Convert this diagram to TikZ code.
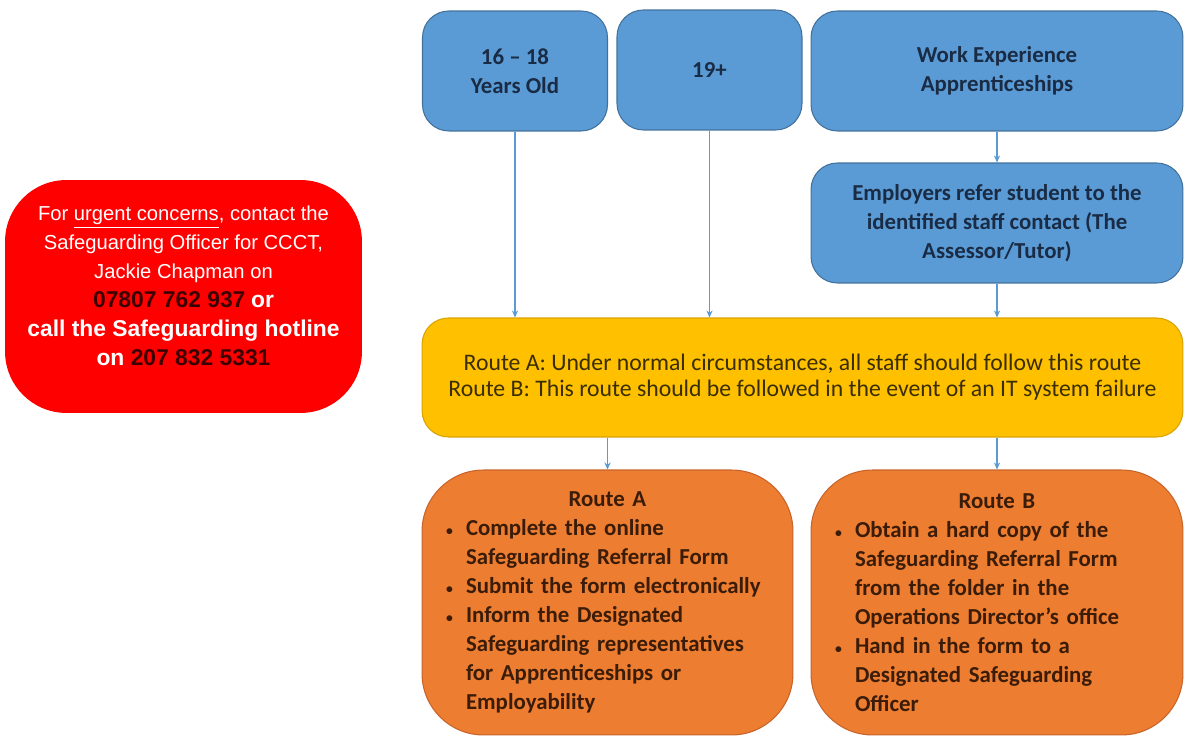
\documentclass[tikz,border=0pt]{standalone}
\usepackage{fontspec}
\setmainfont{Carlito}
\newfontfamily\arialfont{Liberation Sans}
\usetikzlibrary{arrows.meta}

\definecolor{boxblue}{HTML}{5B9BD5}
\definecolor{edgeblue}{HTML}{41719C}
\definecolor{textblue}{HTML}{1A2C45}
\definecolor{boxyellow}{HTML}{FFC000}
\definecolor{edgeyellow}{HTML}{D9A300}
\definecolor{textyellow}{HTML}{3A2E00}
\definecolor{boxorange}{HTML}{ED7D31}
\definecolor{edgeorange}{HTML}{C8642A}
\definecolor{textorange}{HTML}{3A1C08}
\definecolor{boxred}{HTML}{FF0000}
\definecolor{numred}{HTML}{3D0000}

\newcommand{\bul}{\makebox[0.4cm][l]{\scalebox{0.6}{\textbullet}}}
\newcommand{\ind}{\hspace*{0.4cm}}

\tikzset{
  bluebox/.style={draw=edgeblue, fill=boxblue, rounded corners=15pt, line width=0.6pt,
    minimum width=3.7cm, minimum height=2.4cm, inner sep=0pt, align=center,
    text=textblue, font=\fontsize{13pt}{16.5pt}\selectfont\bfseries},
  yellowbox/.style={draw=edgeyellow, fill=boxyellow, rounded corners=15pt, line width=0.6pt,
    minimum width=15.22cm, minimum height=2.38cm, inner sep=0pt, align=center,
    text=textyellow, font=\fontsize{13.5pt}{14.8pt}\selectfont},
  routebox/.style={draw=edgeorange, fill=boxorange, rounded corners=35pt, line width=0.6pt,
    minimum width=7.42cm, minimum height=5.3cm, inner sep=0pt, align=left,
    text width=6.46cm, text=textorange, font=\fontsize{13pt}{16.5pt}\selectfont\bfseries},
  urgentbox/.style={fill=boxred, rounded corners=35pt,
    minimum width=7.14cm, minimum height=4.66cm, inner sep=0pt},
  urgenttext/.style={align=center, inner sep=0pt,
    text=white, font=\arialfont\fontsize{11.5pt}{16.5pt}\selectfont},
  flow/.style={draw=boxblue, line width=0.6pt, ->, >={Stealth[length=4pt,width=3.5pt]}}
}

\begin{document}
\begin{tikzpicture}[x=0.02cm, y=-0.02cm]
  \useasboundingbox (0,0) rectangle (1191,742);

  % urgent contact
  \node[urgentbox] (urgent) at (183.5,296.5) {};
  \node[urgenttext] (urgentmsg) at ([yshift=0.22cm]urgent.center) {For \underline{urgent concerns}, contact the\\
    Safeguarding Officer for CCCT,\\
    Jackie Chapman on\\
    {\fontsize{13pt}{16.5pt}\selectfont\bfseries\color{numred}07807 762 937} {\fontsize{13pt}{16.5pt}\selectfont\bfseries or}\\
    {\fontsize{13pt}{16.5pt}\selectfont\bfseries call the Safeguarding hotline}\\
    {\fontsize{13pt}{16.5pt}\selectfont\bfseries on \color{numred}207 832 5331}};

  % who the student is
  \node[bluebox] (young) at (515,71) {16 -- 18\\Years Old};
  \node[bluebox] (adult) at (709.5,70) {19+};
  \node[bluebox, minimum width=7.44cm] (work) at (997,71) {Work Experience\\Apprenticeships};
  \node[bluebox, minimum width=7.44cm] (employer) at (997,223) {Employers refer student to the\\
    identified staff contact (The\\Assessor/Tutor)};

  \node[yellowbox] (routes) at (802.5,377.5) {Route A: Under normal circumstances, all staff should follow this route\\
    Route B: This route should be followed in the event of an IT system failure};

  % the two routes
  \node[routebox] (routeA) at (607.5,602.5) {\makebox[\linewidth]{Route A}\\
    \bul Complete the online\\
    \ind Safeguarding Referral Form\\
    \bul Submit the form electronically\\
    \bul Inform the Designated\\
    \ind Safeguarding representatives\\
    \ind for Apprenticeships or\\
    \ind Employability};
  \node[routebox, minimum width=7.44cm, text width=6.48cm] (routeB) at (997,602.5) {\makebox[\linewidth]{Route B}\\
    \bul Obtain a hard copy of the\\
    \ind Safeguarding Referral Form\\
    \ind from the folder in the\\
    \ind Operations Director's office\\
    \bul Hand in the form to a\\
    \ind Designated Safeguarding\\
    \ind Officer};

  \draw[flow] (young.south) -- (young.south |- routes.north);
  \draw[flow] (adult.south) -- (adult.south |- routes.north);
  \draw[flow] (work.south) -- (employer.north);
  \draw[flow] (employer.south) -- (employer.south |- routes.north);
  \draw[flow] (routeA.north |- routes.south) -- (routeA.north);
  \draw[flow] (routeB.north |- routes.south) -- (routeB.north);
\end{tikzpicture}
\end{document}
